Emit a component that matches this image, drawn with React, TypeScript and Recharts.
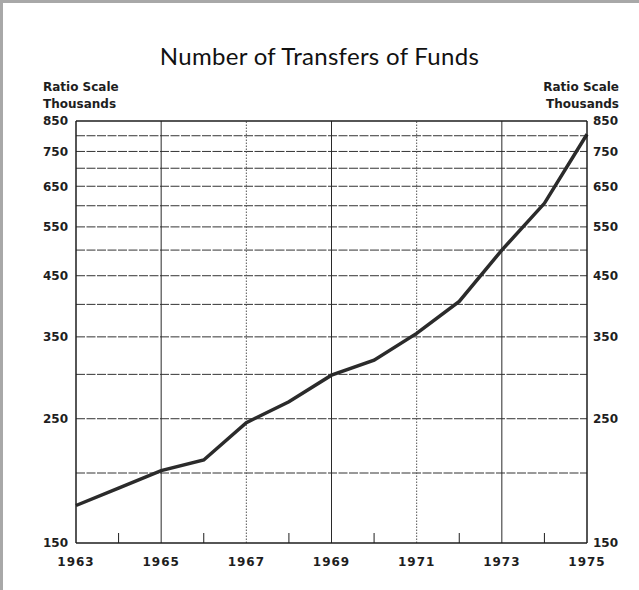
import { LineChart, Line, XAxis, YAxis, ReferenceLine } from 'recharts'

const years = [1963, 1964, 1965, 1966, 1967, 1968, 1969, 1970, 1971, 1972, 1973, 1974, 1975]
const transfers = [175, 188, 202, 211, 246, 268, 299, 318, 355, 405, 500, 606, 805]
const labelYears = [1963, 1965, 1967, 1969, 1971, 1973, 1975]
const solidYears = [1965, 1969, 1973]
const dottedYears = [1967, 1971]
const yTicks = [150, 250, 350, 450, 550, 650, 750, 850]
const gridValues = [200, 250, 300, 350, 400, 450, 500, 550, 600, 650, 700, 750, 800]

const data = years.map((year, i) => ({ year, value: transfers[i] }))

const INK = '#1e1e1e'
const labelFont = '"DejaVu Sans", sans-serif'
const TICK_MARGIN = 14

function YearTick(props: any) {
  const { x, y, payload } = props
  const year = payload.value
  if (labelYears.includes(year)) {
    return (
      <text
        x={x}
        y={y}
        dy="0.71em"
        textAnchor="middle"
        fontSize={12}
        fontWeight="bold"
        fontFamily={labelFont}
        letterSpacing={1}
        fill={INK}
      >
        {year}
      </text>
    )
  }
  return <line x1={x} x2={x} y1={y - TICK_MARGIN} y2={y - TICK_MARGIN - 10} stroke={INK} strokeWidth={1} />
}

const sideLabel = {
  position: 'absolute' as const,
  fontFamily: labelFont,
  fontWeight: 'bold' as const,
  fontSize: 12,
  lineHeight: '17px',
  color: INK,
}

const yTickStyle = { fontSize: 12, fontWeight: 'bold', fontFamily: labelFont, fill: INK }

export default function App() {
  return (
    <div
      style={{
        position: 'absolute',
        left: 0,
        top: 0,
        width: 636,
        height: 587,
        background: '#fff',
        borderLeft: '3px solid #a8a8a8',
        borderTop: '3px solid #a8a8a8',
      }}
    >
      <div
        style={{
          position: 'absolute',
          left: -3,
          top: 38,
          width: 639,
          textAlign: 'center',
          fontFamily: 'Lato, sans-serif',
          fontSize: 24,
          color: '#111',
          letterSpacing: '0.3px',
        }}
      >
        Number of Transfers of Funds
      </div>
      <div style={{ ...sideLabel, left: 40, top: 76 }}>
        Ratio Scale
        <br />
        Thousands
      </div>
      <div style={{ ...sideLabel, right: 20, top: 76, textAlign: 'right' }}>
        Ratio Scale
        <br />
        Thousands
      </div>
      <div style={{ position: 'absolute', left: -3, top: -3 }}>
        <LineChart width={639} height={590} data={data} margin={{ top: 121, right: 12, bottom: 7, left: 36 }}>
          <XAxis
            dataKey="year"
            type="number"
            domain={[1963, 1975]}
            ticks={years}
            interval={0}
            tickSize={0}
            tickMargin={TICK_MARGIN}
            height={40}
            tick={<YearTick />}
            axisLine={{ stroke: INK, strokeWidth: 1.5 }}
          />
          <YAxis
            yAxisId="left"
            scale="log"
            domain={[150, 850]}
            allowDataOverflow
            ticks={yTicks}
            interval={0}
            width={40}
            tickSize={0}
            tickMargin={8}
            tick={yTickStyle}
            axisLine={{ stroke: INK, strokeWidth: 1.5 }}
          />
          <YAxis
            yAxisId="right"
            orientation="right"
            scale="log"
            domain={[150, 850]}
            allowDataOverflow
            ticks={yTicks}
            interval={0}
            width={40}
            tickSize={0}
            tickMargin={6}
            tick={yTickStyle}
            axisLine={{ stroke: INK, strokeWidth: 1.5 }}
          />
          {gridValues.map((v) => (
            <ReferenceLine key={`h${v}`} yAxisId="left" y={v} stroke="#333" strokeWidth={1} strokeDasharray="9 1.5" />
          ))}
          {solidYears.map((yr) => (
            <ReferenceLine key={`s${yr}`} yAxisId="left" x={yr} stroke="#2a2a2a" strokeWidth={1} />
          ))}
          {dottedYears.map((yr) => (
            <ReferenceLine key={`d${yr}`} yAxisId="left" x={yr} stroke="#555" strokeWidth={1} strokeDasharray="1.5 1.5" />
          ))}
          <ReferenceLine yAxisId="left" y={850} stroke={INK} strokeWidth={1.5} />
          <Line
            yAxisId="left"
            dataKey="value"
            type="linear"
            stroke="#2b2b2b"
            strokeWidth={3.5}
            dot={false}
            isAnimationActive={false}
          />
          <Line
            yAxisId="right"
            dataKey="value"
            type="linear"
            stroke="none"
            strokeWidth={0}
            dot={false}
            activeDot={false}
            legendType="none"
            isAnimationActive={false}
          />
        </LineChart>
      </div>
    </div>
  )
}
